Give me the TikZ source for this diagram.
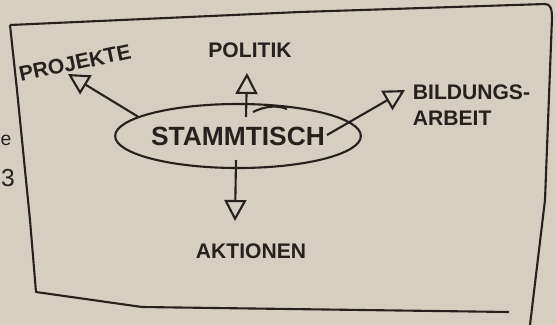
\documentclass[tikz,border=0pt]{standalone}
\usepackage{fontspec}
\setmainfont{Liberation Sans}
\usetikzlibrary{arrows.meta,shapes.geometric}
\definecolor{papier}{RGB}{213,206,193}
\definecolor{stift}{RGB}{38,33,30}

\begin{document}
\begin{tikzpicture}[x=0.2mm,y=-0.2mm,>={Triangle[open,length=4.2mm,width=4.4mm]},line join=round]
    \tikzstyle{every node}=[text=stift,font=\bfseries\fontsize{12}{14.4}\selectfont];
    \tikzstyle{every path}=[line width=1.2pt];
    \fill[papier] (0,0) rectangle (556,325);
    \useasboundingbox (0,0) rectangle (556,325);

    % the sheet's frame
    \draw[stift] (10,25) -- (300,12) -- (545,4) .. controls (550,4) and (552,8) .. (552,18) -- (545,200) -- (530,325);
    \draw[stift] (10,25) -- (17,90) -- (30,220) -- (36,292) -- (142,307) -- (509,312);

    \node at (238,136) (stamm) [draw=stift,ellipse,minimum width=43.8mm,minimum height=12.8mm,inner sep=0pt,font=\bfseries\fontsize{15}{18}\selectfont] {STAMMTISCH\hspace{2.4mm}};
    \node at (250,50)  (politik) {POLITIK};
    \node at (75,63)   (projekte) [rotate=12] {PROJEKTE};
    \node at (406,105) (bildung) [anchor=west,align=left] {BILDUNGS-\\ARBEIT};
    \node at (251,251) (aktionen) {AKTIONEN};
    \node at (8,178)   (rest3) [font=\fontsize{14}{16}\selectfont] {3};
    \node at (6,140)   (reste) [inner sep=1pt,font=\fontsize{11}{13}\selectfont] {e};

    \coordinate (pTip)  at (68,74);
    \coordinate (uFuss) at (246,117);
    \coordinate (uTip)  at (247,73);
    \coordinate (bFuss) at (327,135);
    \coordinate (bTip)  at (405,90);
    \coordinate (aFuss) at (236,160);
    \coordinate (aTip)  at (235,221);

    \draw[->,stift] (stamm.169) to (pTip);
    \draw[->,stift] (uFuss) to (uTip);
    \draw[->,stift] (bFuss) to (bTip);
    \draw[->,stift] (aFuss) to (aTip);
    \draw[stift] (253,112) .. controls (265,106) and (277,105) .. (287,109);
\end{tikzpicture}
\end{document}
